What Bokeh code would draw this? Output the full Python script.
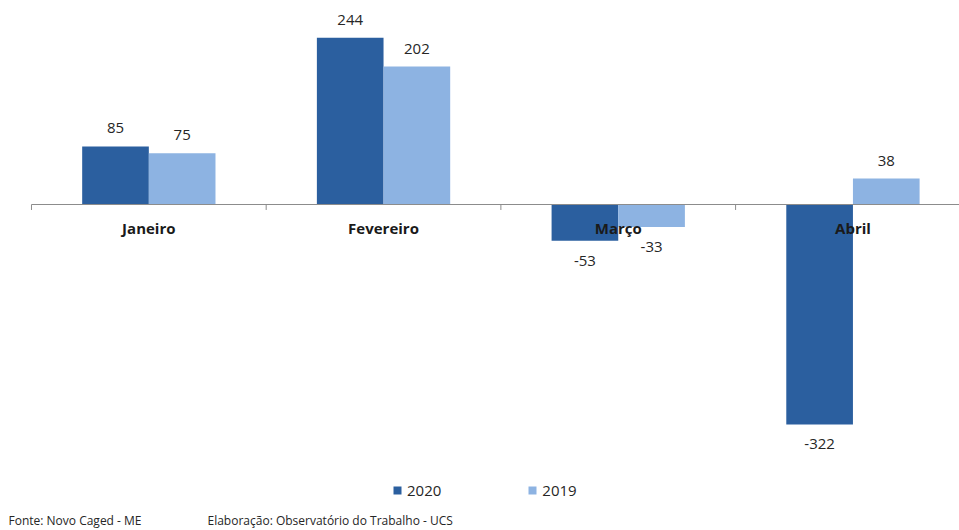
from bokeh.plotting import figure
from bokeh.models import ColumnDataSource, Range1d, Legend, LegendItem, Label
from bokeh.transform import dodge
from bokeh.core.properties import value
from bokeh.embed import file_html
from bokeh.resources import INLINE

months = ["Janeiro", "Fevereiro", "Março", "Abril"]
v2020 = [85, 244, -53, -322]
v2019 = [75, 202, -33, 38]
series = ["2020", "2019"]
colors = ["#2B5F9F", "#8DB3E2"]
source_note = "Fonte: Novo Caged - ME"
credit_note = "Elaboração: Observatório do Trabalho - UCS"

FONT = "Open Sans"
BAR_W = 0.284

idx = list(range(len(months)))
src = ColumnDataSource(dict(
    x=idx, month=months, v2020=v2020, v2019=v2019,
    t2020=[str(v) for v in v2020], t2019=[str(v) for v in v2019],
    o2020=[-18 if v >= 0 else 20 for v in v2020],
    o2019=[-18 if v >= 0 else 20 for v in v2019],
))

p = figure(width=959, height=530, output_backend="svg", toolbar_location=None,
           x_axis_type=None, y_axis_type=None,
           x_range=Range1d(-0.632, 3.454), y_range=Range1d(-477.3, 298.7),
           min_border=0)
p.outline_line_color = None
p.grid.visible = False
p.background_fill_color = "white"

r1 = p.vbar(x=dodge("x", -BAR_W / 2, range=p.x_range), top="v2020", bottom=0, width=BAR_W,
            source=src, fill_color=colors[0], line_color=None)
r2 = p.vbar(x=dodge("x", BAR_W / 2, range=p.x_range), top="v2019", bottom=0, width=BAR_W,
            source=src, fill_color=colors[1], line_color=None)

# zero axis line and category boundary ticks
n = len(months)
p.segment(x0=[-0.5], y0=[0], x1=[n - 0.5], y1=[0], line_color="#8C8C8C", line_width=1)
bx = [i - 0.5 for i in range(n + 1)]
p.segment(x0=bx, y0=[0] * len(bx), x1=bx, y1=[-8] * len(bx), line_color="#8C8C8C", line_width=1)

# value labels
p.text(x=dodge("x", -BAR_W / 2, range=p.x_range), y="v2020", text="t2020", y_offset="o2020",
       source=src, text_align="center", text_baseline="middle",
       text_font=value(FONT), text_font_size="15px", text_color="#262626")
p.text(x=dodge("x", BAR_W / 2, range=p.x_range), y="v2019", text="t2019", y_offset="o2019",
       source=src, text_align="center", text_baseline="middle",
       text_font=value(FONT), text_font_size="15px", text_color="#262626")

# category labels next to zero line
p.text(x="x", y=0, text="month", y_offset=23, source=src, text_align="center",
       text_baseline="middle", text_font=value(FONT), text_font_size="15px",
       text_font_style="bold", text_color="#1A1A1A")

legend = Legend(items=[LegendItem(label=series[0], renderers=[r1]),
                       LegendItem(label=series[1], renderers=[r2])],
                orientation="horizontal", location=(392, 30),
                glyph_width=10, glyph_height=10, label_standoff=5, spacing=86,
                padding=0, margin=0, border_line_color=None, background_fill_alpha=0,
                label_text_font=FONT, label_text_font_size="15px", label_text_color="#262626",
                label_height=20)
p.add_layout(legend, "center")

p.add_layout(Label(x=8, y=10, x_units="screen", y_units="screen", text=source_note,
                   text_font=FONT, text_font_size="12px", text_color="#262626",
                   text_baseline="middle"))
p.add_layout(Label(x=207, y=10, x_units="screen", y_units="screen", text=credit_note,
                   text_font=FONT, text_font_size="12px", text_color="#262626",
                   text_baseline="middle"))

open("out.html", "w").write(file_html(p, INLINE))
